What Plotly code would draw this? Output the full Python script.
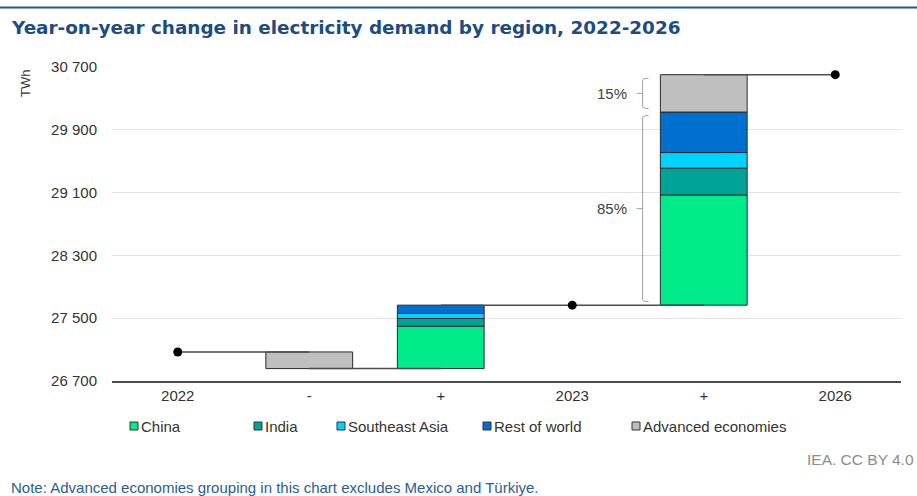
import plotly.graph_objects as go

# ---------------- data ----------------
categories = ["2022", "-", "+", "2023", "+", "2026"]
regions = ["China", "India", "Southeast Asia", "Rest of world", "Advanced economies"]
colors = ["#00EC8B", "#00A398", "#00D3FF", "#0070D0", "#BFBFBF"]

demand_2022 = 27070
change_2022_2023 = [540, 98, 64, 106, -212]   # China, India, SEA, RoW, Advanced
change_2023_2026 = [1404, 341, 199, 516, 476]
share_labels = ["85%", "15%"]                 # emerging+developing, advanced
y_ticks = [26700, 27500, 28300, 29100, 29900, 30700]

# ---------------- derived levels ----------------
dec_2023 = sum(v for v in change_2022_2023 if v < 0)
level_after_minus = demand_2022 + dec_2023
demand_2023 = demand_2022 + sum(change_2022_2023)
demand_2026 = demand_2023 + sum(change_2023_2026)

X_2022, X_MINUS, X_PLUS1, X_2023, X_PLUS2, X_2026 = range(6)
BAR_W = 0.66
LINE_C = "#4D4D4D"
FONT = "Liberation Sans, Arial, sans-serif"

W, H = 917, 496
ML, MR, MT, MB = 112, 16, 67, 115
PW, PH = W - ML - MR, H - MT - MB


def px(x):
    return (x - ML) / PW


def py(y):
    return (H - MB - y) / PH


fig = go.Figure()

# connector lines
conn_x = [X_2022, X_MINUS, None, X_MINUS, X_PLUS1, None, X_PLUS1, X_PLUS2, None, X_PLUS2, X_2026]
conn_y = [demand_2022, demand_2022, None, level_after_minus, level_after_minus, None,
          demand_2023, demand_2023, None, demand_2026, demand_2026]
fig.add_trace(go.Scatter(x=conn_x, y=conn_y, mode="lines", line=dict(color=LINE_C, width=1.5),
                         hoverinfo="skip", showlegend=False))

# stacked bars
base1 = level_after_minus
base2 = demand_2023
for i, name in enumerate(regions):
    v1 = change_2022_2023[i]
    v2 = change_2023_2026[i]
    xs, ys, bs = [], [], []
    if v1 < 0:
        xs.append(X_MINUS); ys.append(-v1); bs.append(demand_2022 + v1)
    else:
        xs.append(X_PLUS1); ys.append(v1); bs.append(base1); base1 += v1
    xs.append(X_PLUS2); ys.append(v2); bs.append(base2); base2 += v2
    fig.add_trace(go.Bar(x=xs, y=ys, base=bs, width=BAR_W, name=name,
                         marker=dict(color=colors[i], line=dict(color="#2B2B2B", width=1)),
                         showlegend=False))

# totals dots
fig.add_trace(go.Scatter(x=[X_2022, X_2023, X_2026], y=[demand_2022, demand_2023, demand_2026],
                         mode="markers", marker=dict(color="black", size=9),
                         showlegend=False, hoverinfo="skip"))


# braces
def brace(y_bot, y_top, inset=45, r=30):
    xl, xh, xt = X_PLUS2 - 0.465, X_PLUS2 - 0.42, X_PLUS2 - 0.51
    top, bot = y_top - inset, y_bot + inset
    mid = (top + bot) / 2
    return (f"M {xh},{top} Q {xl},{top} {xl},{top - r} L {xl},{bot + r} "
            f"Q {xl},{bot} {xh},{bot} M {xl},{mid} L {xt},{mid}"), mid


adv_top = demand_2026
adv_bot = demand_2026 - change_2023_2026[4]
shapes = []
annotations = []
for (lo, hi), lab in zip([(demand_2023, adv_bot), (adv_bot, adv_top)], share_labels):
    p, mid = brace(lo, hi)
    shapes.append(dict(type="path", path=p, xref="x", yref="y",
                       line=dict(color="#A0A0A0", width=1)))
    annotations.append(dict(x=X_PLUS2 - 0.57, y=mid, xref="x", yref="y", text=lab,
                            showarrow=False, xanchor="right",
                            font=dict(size=15, color="#404040", family=FONT)))

# top rule
shapes.append(dict(type="line", xref="paper", yref="paper", x0=px(0), x1=px(W),
                   y0=py(7.5), y1=py(7.5), line=dict(color="#1F5893", width=2)))

# manual legend
legend_x = [134, 258, 341, 487, 636]
LEG_Y = 426
for i, name in enumerate(regions):
    cx = legend_x[i]
    shapes.append(dict(type="rect", xref="paper", yref="paper",
                       x0=px(cx - 4), x1=px(cx + 4), y0=py(LEG_Y - 4), y1=py(LEG_Y + 4),
                       fillcolor=colors[i], line=dict(color="#333333", width=1)))
    annotations.append(dict(text=name, xref="paper", yref="paper", x=px(cx + 5), y=py(LEG_Y),
                            xanchor="left", yanchor="middle", showarrow=False,
                            font=dict(size=15, color="#333333", family=FONT)))

annotations += [
    dict(text="<b>Year-on-year change in electricity demand by region, 2022-2026</b>",
         xref="paper", yref="paper", x=px(9), y=py(27), xanchor="left", yanchor="middle",
         showarrow=False, font=dict(size=18.4, color="#1B4C85", family="DejaVu Sans")),
    dict(text="TWh", xref="paper", yref="paper", x=px(25), y=py(84), textangle=-90,
         showarrow=False, xanchor="center", yanchor="middle",
         font=dict(size=13, color="#333333", family=FONT)),
    dict(text="IEA. CC BY 4.0", xref="paper", yref="paper", x=px(916), y=py(459),
         xanchor="right", yanchor="middle", showarrow=False,
         font=dict(size=15.5, color="#8C8C8C", family=FONT)),
    dict(text="Note: Advanced economies grouping in this chart excludes Mexico and Türkiye.",
         xref="paper", yref="paper", x=px(9), y=py(487), xanchor="left", yanchor="middle",
         showarrow=False, font=dict(size=15, color="#2A5D96", family=FONT)),
]

fig.update_layout(
    width=W, height=H,
    margin=dict(l=ML, r=MR, t=MT, b=MB, autoexpand=False),
    plot_bgcolor="white", paper_bgcolor="white",
    barmode="overlay", showlegend=False, hovermode=False,
    font=dict(family=FONT, size=15, color="#333333"),
    shapes=shapes, annotations=annotations,
    xaxis=dict(range=[-0.5, 5.5], tickmode="array", tickvals=list(range(6)),
               ticktext=categories, showgrid=False, showline=True, linecolor=LINE_C,
               linewidth=2, zeroline=False, fixedrange=True,
               tickfont=dict(size=15, color="#333333")),
    yaxis=dict(range=[y_ticks[0], y_ticks[-1]], tickmode="array", tickvals=y_ticks,
               ticktext=[f"{v:,}".replace(",", " ") for v in y_ticks],
               showgrid=True, gridcolor="#E3E3E3", gridwidth=1, zeroline=False,
               ticks="outside", ticklen=11, tickcolor="rgba(0,0,0,0)", showline=False,
               fixedrange=True, tickfont=dict(size=15, color="#333333")),
)

fig.write_html("out.html", config={"displayModeBar": False, "staticPlot": True},
               post_script="document.body.style.margin='0px';")
